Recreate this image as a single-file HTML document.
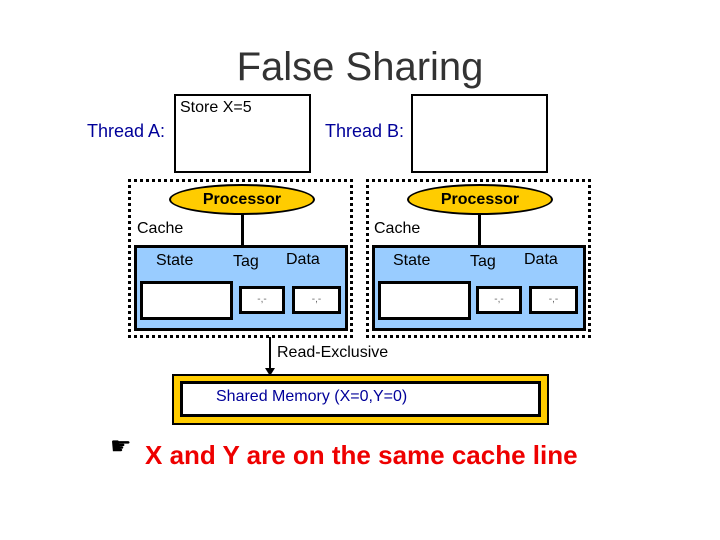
<!DOCTYPE html>
<html><head><style>
body{margin:0;width:720px;height:540px;background:#fff;position:relative;overflow:hidden;font-family:"Liberation Sans",sans-serif}
.a{position:absolute}
.w{background:#fff;border:2px solid #000;box-sizing:border-box}
.t{position:absolute;white-space:nowrap;line-height:1}
.d{position:absolute;border:3px dotted #000;box-sizing:border-box}
.b{position:absolute;background:#99ccff;border:3px solid #000;box-sizing:border-box}
.e{position:absolute;background:#ffcc00;border:2px solid #000;border-radius:50%;box-sizing:border-box;font-weight:bold;font-size:16px;text-align:center}
.s{font-size:10px;color:#666;text-align:center}
</style></head><body>
<div class="t" style="left:0;width:720px;text-align:center;top:47px;font-size:40px;color:#333">False Sharing</div>
<div class="t" style="left:87px;top:122px;font-size:18px;color:#000099">Thread A:</div>
<div class="t" style="left:325px;top:122px;font-size:18px;color:#000099">Thread B:</div>
<div class="a w" style="left:174px;top:94px;width:137px;height:79px"></div>
<div class="t" style="left:180px;top:100px;font-size:16px">Store X=5</div>
<div class="a w" style="left:411px;top:94px;width:137px;height:79px"></div>

<div class="d" style="left:128px;top:179px;width:225px;height:159px"></div>
<div class="d" style="left:366px;top:179px;width:225px;height:159px"></div>

<div class="a" style="left:241px;top:213px;width:3px;height:33px;background:#000"></div>
<div class="a" style="left:478px;top:213px;width:3px;height:33px;background:#000"></div>
<div class="e" style="left:169px;top:184px;width:146px;height:31px;line-height:27px">Processor</div>
<div class="e" style="left:407px;top:184px;width:146px;height:31px;line-height:27px">Processor</div>
<div class="t" style="left:137px;top:221px;font-size:16px">Cache</div>
<div class="t" style="left:374px;top:221px;font-size:16px">Cache</div>

<div class="b" style="left:134px;top:245px;width:214px;height:86px"></div>
<div class="b" style="left:372px;top:245px;width:214px;height:86px"></div>
<div class="t" style="left:156px;top:253px;font-size:16px">State</div>
<div class="t" style="left:233px;top:254px;font-size:16px">Tag</div>
<div class="t" style="left:286px;top:252px;font-size:16px">Data</div>
<div class="t" style="left:393px;top:253px;font-size:16px">State</div>
<div class="t" style="left:470px;top:254px;font-size:16px">Tag</div>
<div class="t" style="left:524px;top:252px;font-size:16px">Data</div>

<div class="a w" style="left:140px;top:281px;width:93px;height:39px;border-width:3px"></div>
<div class="a w s" style="left:239px;top:286px;width:46px;height:28px;border-width:3px;line-height:22px">-,-</div>
<div class="a w s" style="left:292px;top:286px;width:49px;height:28px;border-width:3px;line-height:22px">-,-</div>
<div class="a w" style="left:378px;top:281px;width:93px;height:39px;border-width:3px"></div>
<div class="a w s" style="left:476px;top:286px;width:46px;height:28px;border-width:3px;line-height:22px">-,-</div>
<div class="a w s" style="left:529px;top:286px;width:49px;height:28px;border-width:3px;line-height:22px">-,-</div>

<div class="a" style="left:269px;top:337px;width:2px;height:36px;background:#000"></div>
<div class="a" style="left:265px;top:368px;width:0;height:0;border-left:5px solid transparent;border-right:5px solid transparent;border-top:8px solid #000"></div>
<div class="t" style="left:277px;top:345px;font-size:16px">Read-Exclusive</div>

<div class="a" style="left:172px;top:374px;width:377px;height:51px;background:#ffcc00;border:2px solid #000;box-sizing:border-box"></div>
<div class="a" style="left:180px;top:381px;width:361px;height:36px;background:#fff;border:3px solid #000;box-sizing:border-box"></div>
<div class="t" style="left:216px;top:389px;font-size:16px;color:#000099">Shared Memory (X=0,Y=0)</div>

<div class="t" style="left:110px;top:435px;font-size:24px">&#9755;</div>
<div class="t" style="left:145px;top:442px;font-size:26px;font-weight:bold;color:#e00">X and Y are on the same cache line</div>
</body></html>
